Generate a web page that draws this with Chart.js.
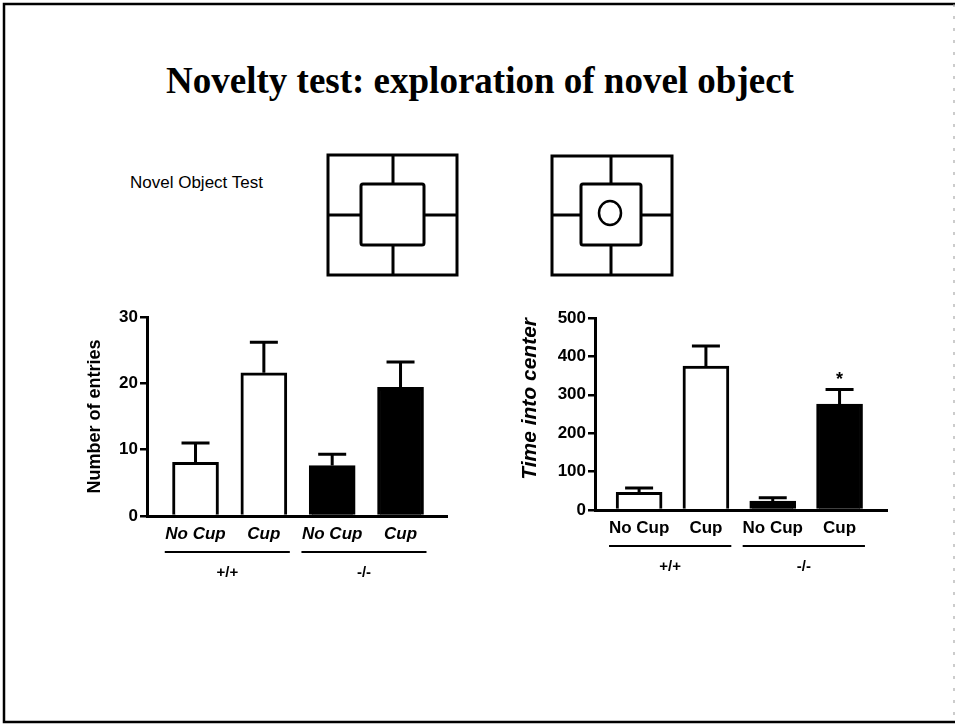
<!DOCTYPE html>
<html>
<head>
<meta charset="utf-8">
<title>Novelty test: exploration of novel object</title>
<script src="https://cdn.jsdelivr.net/npm/chart.js@4.4.1/dist/chart.umd.min.js"></script>
<style>
  html, body { margin: 0; padding: 0; background: #fff; }
  #page { position: relative; width: 958px; height: 724px; overflow: hidden; }
  #deco { position: absolute; left: 0; top: 0; }
  .plot { position: absolute; }
</style>
</head>
<body>
<div id="page">
  <svg id="deco" width="958" height="724" xmlns="http://www.w3.org/2000/svg">
    <!-- slide frame -->
    <path d="M955 4 H4 V722 H955" fill="none" stroke="#000" stroke-width="2.5"/>
    <line x1="954" y1="4" x2="954" y2="722" stroke="#999" stroke-width="1" stroke-dasharray="3 9"/>

    <text x="480" y="93" text-anchor="middle" font-family="'Liberation Serif', 'Times New Roman', serif"
          font-weight="bold" font-size="37">Novelty test: exploration of novel object</text>
    <text x="130" y="188" font-family="'Liberation Sans', Arial, sans-serif" font-size="17">Novel Object Test</text>

    <!-- open field, empty -->
    <g fill="none" stroke="#000" stroke-width="3">
      <rect x="328" y="155" width="129" height="120"/>
      <rect x="361" y="184" width="63" height="61" rx="2"/>
      <path d="M393 155 V184 M393 245 V275 M328 215 H361 M424 215 H457"/>
    </g>
    <!-- open field, with object -->
    <g fill="none" stroke="#000" stroke-width="3">
      <rect x="552" y="156" width="120" height="119"/>
      <rect x="581" y="184" width="60" height="61" rx="2"/>
      <path d="M611 156 V184 M611 245 V275 M552 215 H581 M641 215 H672"/>
      <ellipse cx="610" cy="213" rx="11" ry="12" stroke-width="2.5"/>
    </g>
  </svg>

  <div class="plot" style="left:60px; top:300px;"><canvas id="entries" width="400" height="300"></canvas></div>
  <div class="plot" style="left:500px; top:300px;"><canvas id="timeCenter" width="400" height="300"></canvas></div>
</div>

<script>
const categories = ['No Cup', 'Cup', 'No Cup', 'Cup'];
const genotypes = ['+/+', '-/-'];
const barFills = ['#ffffff', '#ffffff', '#000000', '#000000'];

const entriesMean = [8.1, 21.6, 7.6, 19.4];
const entriesSem = [2.9, 4.6, 1.7, 3.8];
const entriesTicks = [0, 10, 20, 30];

const timeMean = [46, 375, 23, 276];
const timeSem = [11, 52, 9, 38];
const timeSig = ['', '', '', '*'];
const timeTicks = [0, 100, 200, 300, 400, 500];

const sans = "'Liberation Sans', Arial, Helvetica, sans-serif";

// error bars, significance marks and genotype brackets under the axis
function decorPlugin(mean, sem, sig) {
  return {
    id: 'decor',
    afterDatasetsDraw(chart) {
      const ctx = chart.ctx;
      const xs = chart.scales.x;
      const ys = chart.scales.y;
      ctx.save();
      ctx.strokeStyle = '#000';
      ctx.fillStyle = '#000';
      ctx.lineWidth = 3;
      mean.forEach((m, i) => {
        const x = xs.getPixelForValue(i);
        const yBar = ys.getPixelForValue(m);
        const yTop = ys.getPixelForValue(m + sem[i]);
        ctx.beginPath();
        ctx.moveTo(x, yBar);
        ctx.lineTo(x, yTop);
        ctx.moveTo(x - 14, yTop);
        ctx.lineTo(x + 14, yTop);
        ctx.stroke();
        if (sig && sig[i]) {
          ctx.font = 'bold 18px ' + sans;
          ctx.textAlign = 'center';
          ctx.textBaseline = 'middle';
          ctx.fillText(sig[i], x, yTop - 9);
        }
      });
      ctx.restore();
    },
    afterDraw(chart) {
      const ctx = chart.ctx;
      const xs = chart.scales.x;
      const base = chart.chartArea.bottom;
      ctx.save();
      ctx.strokeStyle = '#000';
      ctx.fillStyle = '#000';
      ctx.lineWidth = 2;
      ctx.font = 'bold 15px ' + sans;
      ctx.textAlign = 'center';
      ctx.textBaseline = 'middle';
      genotypes.forEach((g, k) => {
        const x1 = xs.getPixelForValue(2 * k - 0.45);
        const x2 = xs.getPixelForValue(2 * k + 1 + 0.38);
        ctx.beginPath();
        ctx.moveTo(x1, base + 36);
        ctx.lineTo(x2, base + 36);
        ctx.stroke();
        ctx.fillText(g, (x1 + x2) / 2, base + 57);
      });
      ctx.restore();
    }
  };
}

function makeChart(id, opts) {
  const ctx = document.getElementById(id).getContext('2d');
  return new Chart(ctx, {
    type: 'bar',
    data: {
      datasets: [{
        data: opts.mean.map((y, i) => ({ x: i, y: y })),
        backgroundColor: barFills,
        borderColor: '#000',
        borderWidth: 3,
        borderSkipped: 'bottom',
        barThickness: 46
      }]
    },
    options: {
      responsive: false,
      animation: false,
      layout: { padding: { top: opts.top, right: 13, left: 0, bottom: 0 } },
      plugins: { legend: { display: false }, tooltip: { enabled: false } },
      scales: {
        x: {
          type: 'linear',
          min: opts.xMin,
          max: opts.xMax,
          offset: false,
          grid: { display: false, drawTicks: false, offset: false },
          border: { color: '#000', width: 3 },
          afterBuildTicks: (s) => { s.ticks = categories.map((c, i) => ({ value: i })); },
          afterFit: (s) => { s.height = 300 - opts.bottom; },
          ticks: {
            autoSkip: false,
            maxRotation: 0,
            padding: 8,
            color: '#000',
            font: { family: sans, size: 17, weight: 'bold', style: opts.labelStyle },
            callback: (v) => categories[v]
          }
        },
        y: {
          min: 0,
          max: opts.ticks[opts.ticks.length - 1],
          grid: { drawOnChartArea: false, color: '#000', lineWidth: 2.5, tickLength: 7 },
          border: { color: '#000', width: 3 },
          afterBuildTicks: (s) => { s.ticks = opts.ticks.map((v) => ({ value: v })); },
          afterFit: (s) => { s.width = opts.axisWidth; },
          ticks: {
            padding: 2,
            color: '#000',
            font: { family: sans, size: 17, weight: 'bold' }
          },
          title: {
            display: true,
            text: opts.title,
            color: '#000',
            align: opts.titleAlign,
            padding: { top: opts.titlePad, bottom: 0 },
            font: { family: sans, size: opts.titleSize, weight: 'bold', style: opts.titleStyle }
          }
        }
      }
    },
    plugins: [decorPlugin(opts.mean, opts.sem, opts.sig)]
  });
}

makeChart('entries', {
  mean: entriesMean, sem: entriesSem, sig: null, ticks: entriesTicks,
  xMin: -0.71, xMax: 3.68, top: 17, bottom: 216, axisWidth: 87,
  title: 'Number of entries', titleSize: 18, titleStyle: 'normal', titleAlign: 'center', titlePad: 24,
  labelStyle: 'italic'
});

makeChart('timeCenter', {
  mean: timeMean, sem: timeSem, sig: timeSig, ticks: timeTicks,
  xMin: -0.66, xMax: 3.71, top: 18, bottom: 210, axisWidth: 95,
  title: 'Time into center', titleSize: 21, titleStyle: 'italic', titleAlign: 'end', titlePad: 18,
  labelStyle: 'normal'
});
</script>
</body>
</html>
